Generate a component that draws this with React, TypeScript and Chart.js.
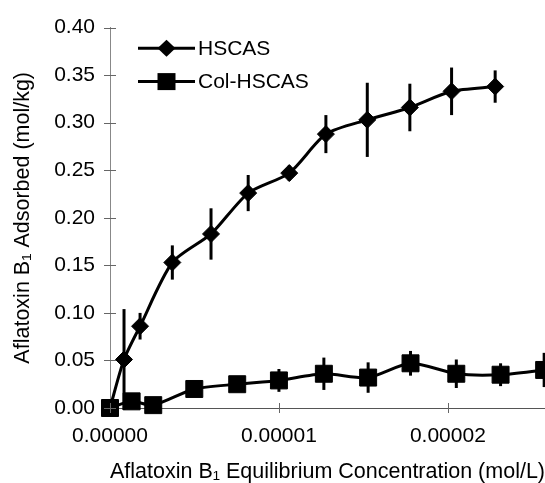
import React, { useEffect, useRef } from 'react';
import { Chart, registerables } from 'chart.js';
Chart.register(...registerables);

const hscasX = [0, 0.83e-6, 1.78e-6, 3.69e-6, 5.98e-6, 8.18e-6, 1.061e-5, 1.278e-5, 1.523e-5, 1.775e-5, 2.022e-5, 2.28e-5];
const hscasY = [0, 0.051, 0.086, 0.153, 0.183, 0.226, 0.247, 0.288, 0.303, 0.316, 0.333, 0.338];
const hscasErr = [0, 0.053, 0.014, 0.018, 0.027, 0.019, 0.008, 0.02, 0.039, 0.025, 0.025, 0.017];
const colX = [0, 1.28e-6, 2.56e-6, 4.99e-6, 7.53e-6, 1.0e-5, 1.266e-5, 1.528e-5, 1.779e-5, 2.05e-5, 2.312e-5, 2.57e-5];
const colY = [0, 0.007, 0.003, 0.02, 0.025, 0.029, 0.036, 0.032, 0.047, 0.036, 0.035, 0.04];
const colErr = [0, 0.006, 0.004, 0.006, 0.005, 0.012, 0.017, 0.016, 0.013, 0.015, 0.012, 0.018];
const seriesNames = ['HSCAS', 'Col-HSCAS'];
const xTitle = 'Aflatoxin B\u2081 Equilibrium Concentration (mol/L)';
const yTitle = 'Aflatoxin B\u2081 Adsorbed (mol/kg)';
const xMin = 0;
const xMax = 2.575e-5;
const xStep = 1e-5;
const yMin = 0;
const yMax = 0.4;
const yStep = 0.05;

const FONT = '"Liberation Sans", Arial, Helvetica, sans-serif';

const errorBarPlugin = {
  id: 'errorBars',
  afterDatasetsDraw(chart: any) {
    const ctx = chart.ctx;
    const xs = chart.scales.x;
    const ys = chart.scales.y;
    const errs = [hscasErr, colErr];
    ctx.save();
    ctx.strokeStyle = '#000';
    ctx.lineWidth = 3;
    chart.data.datasets.forEach((ds: any, di: number) => {
      ds.data.forEach((p: any, i: number) => {
        const e = errs[di][i];
        if (!e) return;
        const px = xs.getPixelForValue(p.x);
        ctx.beginPath();
        ctx.moveTo(px, ys.getPixelForValue(p.y + e));
        ctx.lineTo(px, ys.getPixelForValue(p.y - e));
        ctx.stroke();
      });
    });
    ctx.restore();
  },
};

const tickMarkPlugin = {
  id: 'tickMarks',
  afterDraw(chart: any) {
    const ctx = chart.ctx;
    const xs = chart.scales.x;
    const ys = chart.scales.y;
    const { left, bottom } = chart.chartArea;
    ctx.save();
    ctx.lineWidth = 1;
    ctx.strokeStyle = '#666';
    ys.ticks.forEach((t: any) => {
      const py = Math.round(ys.getPixelForValue(t.value)) + 0.5;
      ctx.beginPath();
      ctx.moveTo(left - 6, py);
      ctx.lineTo(left + 6, py);
      ctx.stroke();
    });
    xs.ticks.forEach((t: any) => {
      const px = Math.round(xs.getPixelForValue(t.value)) + 0.5;
      ctx.beginPath();
      ctx.moveTo(px, bottom - 5);
      ctx.lineTo(px, bottom + 5);
      ctx.stroke();
    });
    ctx.restore();
  },
};

const legendPlugin = {
  id: 'customLegend',
  afterDraw(chart: any) {
    const ctx = chart.ctx;
    const { left, top } = chart.chartArea;
    ctx.save();
    const rows = [top + 20.6, top + 54];
    seriesNames.forEach((name, i) => {
      const y = rows[i];
      const x0 = left + 28;
      const x1 = left + 85;
      const cx = (x0 + x1) / 2;
      ctx.strokeStyle = '#000';
      ctx.lineWidth = 3;
      ctx.beginPath();
      ctx.moveTo(x0, y);
      ctx.lineTo(x1, y);
      ctx.stroke();
      ctx.fillStyle = '#000';
      ctx.beginPath();
      if (i === 0) {
        ctx.moveTo(cx, y - 8.5);
        ctx.lineTo(cx + 9, y);
        ctx.lineTo(cx, y + 8.5);
        ctx.lineTo(cx - 9, y);
        ctx.closePath();
      } else {
        ctx.rect(cx - 9, y - 8.5, 18, 17);
      }
      ctx.fill();
      ctx.font = `21px ${FONT}`;
      ctx.textBaseline = 'middle';
      ctx.textAlign = 'left';
      ctx.fillText(name, x1 + 3, y + 1);
    });
    ctx.restore();
  },
};

export default function App() {
  const ref = useRef<HTMLCanvasElement>(null);
  useEffect(() => {
    if (!ref.current) return;
    const chart = new Chart(ref.current, {
      type: 'line',
      data: {
        datasets: [
          {
            label: seriesNames[0],
            data: hscasX.map((x, i) => ({ x, y: hscasY[i] })),
            borderColor: '#000',
            backgroundColor: '#000',
            borderWidth: 3,
            tension: 0.25,
            pointStyle: 'rectRot',
            pointRadius: 8.5,
            pointBorderWidth: 1,
            clip: false as any,
          },
          {
            label: seriesNames[1],
            data: colX.map((x, i) => ({ x, y: colY[i] })),
            borderColor: '#000',
            backgroundColor: '#000',
            borderWidth: 3,
            tension: 0.25,
            pointStyle: 'rect',
            pointRadius: 12,
            pointBorderWidth: 1,
            clip: false as any,
          },
        ],
      },
      options: {
        responsive: false,
        animation: false,
        parsing: false as any,
        layout: { autoPadding: false, padding: { top: 23, right: 0, bottom: 0, left: 0 } },
        plugins: { legend: { display: false }, tooltip: { enabled: false } },
        scales: {
          x: {
            type: 'linear',
            min: xMin,
            max: xMax,
            grid: { display: true, drawOnChartArea: false, drawTicks: false },
            border: { display: true, color: '#555', width: 1 },
            ticks: {
              stepSize: xStep,
              includeBounds: false,
              autoSkip: false,
              maxRotation: 0,
              padding: 16,
              color: '#000',
              font: { family: FONT, size: 21 },
              callback: (v: any) => Number(v).toFixed(5),
            },
            title: {
              display: true,
              text: xTitle,
              color: '#000',
              font: { family: FONT, size: 21.5, lineHeight: 1 },
              padding: { top: 0, bottom: 0 },
            },
            afterFit: (s: any) => { s.height = 75; s.paddingRight = 0; s.paddingLeft = 0; },
          },
          y: {
            type: 'linear',
            min: yMin,
            max: yMax,
            grid: { display: true, drawOnChartArea: false, drawTicks: false },
            border: { display: true, color: '#888', width: 1 },
            ticks: {
              stepSize: yStep,
              padding: 15,
              color: '#000',
              font: { family: FONT, size: 21 },
              callback: (v: any) => Number(v).toFixed(2),
            },
            title: {
              display: true,
              text: yTitle,
              color: '#000',
              font: { family: FONT, size: 21.5, lineHeight: 1 },
              padding: { top: 12.5, bottom: 0 },
            },
            afterFit: (s: any) => { s.width = 110; },
          },
        },
      },
      plugins: [errorBarPlugin, tickMarkPlugin, legendPlugin],
    });
    return () => chart.destroy();
  }, []);
  return (
    <div style={{ position: 'absolute', left: 0, top: 0, width: 545, height: 483, overflow: 'hidden', background: '#fff' }}>
      <canvas ref={ref} width={545} height={483} style={{ display: 'block' }} />
    </div>
  );
}
